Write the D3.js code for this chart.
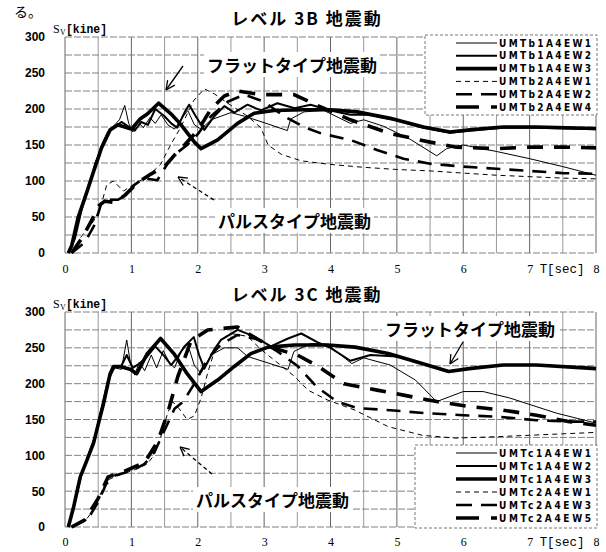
<!DOCTYPE html>
<html>
<head>
<meta charset="utf-8">
<script src="https://cdn.jsdelivr.net/npm/d3@7"></script>
<style>
body { margin: 0; background: #fff; }
svg { display: block; }
.cjk { font-family: "Noto Sans CJK JP", sans-serif; font-weight: bold; fill: #000; }
.ytick text { font-family: "Liberation Sans", Arial, sans-serif; font-size: 12px; font-weight: bold; }
.xtick text { font-family: "Liberation Serif", serif; font-size: 12px; }
.legend text { font-family: "DejaVu Sans Condensed", "DejaVu Sans", sans-serif; font-size: 10px; font-weight: bold; }
</style>
</head>
<body>
<div id="chart"></div>
<script>
// tick labels
var xTicks = [0, 1, 2, 3, 4, 5, 6, 7, 8];
var yTicks = [0, 50, 100, 150, 200, 250, 300];

// Level 3B curves, [T sec, Sv kine]
var names3B = ["UMTb1A4EW1", "UMTb1A4EW2", "UMTb1A4EW3", "UMTb2A4EW1", "UMTb2A4EW2", "UMTb2A4EW4"];
var b1EW1 = [[0.05,0],[0.12,15],[0.2,45],[0.3,80],[0.38,100],[0.45,125],[0.52,140],[0.6,160],[0.68,172],[0.75,178],[0.82,185],[0.9,205],[0.96,180],[1.02,168],[1.1,182],[1.18,174],[1.28,188],[1.36,180],[1.45,192],[1.55,178],[1.65,172],[1.75,186],[1.85,198],[1.95,178],[2.05,172],[2.2,185],[2.35,190],[2.5,195],[2.7,190],[3.0,181],[3.35,170],[3.4,186],[3.6,196],[3.9,198],[4.3,180],[4.5,185],[4.8,176],[5.2,158],[5.6,135],[5.75,145],[6.0,150],[6.5,141],[7.0,131],[7.5,120],[8.0,108]];
var b1EW2 = [[0.05,0],[0.15,20],[0.25,60],[0.35,90],[0.45,120],[0.55,148],[0.65,168],[0.75,175],[0.85,182],[0.95,176],[1.05,170],[1.15,182],[1.25,178],[1.36,200],[1.5,190],[1.6,180],[1.69,174],[1.8,195],[1.87,206],[1.97,190],[2.1,171],[2.25,190],[2.4,204],[2.55,195],[2.75,206],[2.95,198],[3.2,208],[3.46,201],[3.7,206],[4.0,198],[4.3,192],[4.6,192],[5.0,184],[5.4,174],[5.8,167],[6.1,170],[6.6,174],[7.1,174],[8.0,172]];
var b1EW3 = [[0.05,0],[0.1,10],[0.2,50],[0.33,85],[0.43,113],[0.5,132],[0.55,146],[0.68,171],[0.8,178],[0.9,175],[1.0,172],[1.13,186],[1.24,193],[1.41,208],[1.6,193],[1.74,179],[1.95,154],[2.05,145],[2.3,157],[2.6,180],[2.85,194],[3.15,198],[3.6,199],[4.0,199],[4.4,196],[4.9,187],[5.4,175],[5.8,168],[6.1,171],[6.6,175],[7.1,175],[8.0,173]];
var b2EW1 = [[0.1,0],[0.23,21],[0.35,35],[0.43,44],[0.53,62],[0.63,95],[0.73,100],[0.88,86],[1.03,95],[1.24,106],[1.44,123],[1.59,150],[1.74,174],[1.94,212],[2.1,228],[2.25,221],[2.5,205],[2.75,190],[2.95,174],[3.06,150],[3.26,137],[3.56,128],[4.0,123],[4.5,119],[5.0,116],[5.5,114],[6.0,111],[6.5,108],[7.0,106],[7.5,104],[8.0,103]];
var b2EW2 = [[0.1,0],[0.3,15],[0.45,40],[0.55,70],[0.65,74],[0.8,74],[0.93,81],[1.05,95],[1.19,104],[1.39,101],[1.55,125],[1.7,140],[1.84,150],[2.0,165],[2.2,190],[2.45,210],[2.7,220],[3.0,210],[3.3,190],[3.6,175],[3.86,166],[4.3,157],[4.7,143],[5.1,131],[5.5,124],[6.0,120],[6.5,117],[7.0,114],[7.5,111],[8.0,110]];
var b2EW4 = [[0.1,0],[0.25,20],[0.4,45],[0.5,65],[0.6,72],[0.75,70],[0.9,80],[1.1,98],[1.3,110],[1.5,120],[1.65,136],[1.8,150],[2.0,170],[2.2,200],[2.4,218],[2.6,225],[2.95,220],[3.45,220],[3.8,205],[4.3,185],[4.9,166],[5.5,154],[5.9,147],[6.5,145],[7.0,147],[7.5,147],[8.0,146]];

// Level 3C curves
var names3C = ["UMTc1A4EW1", "UMTc1A4EW2", "UMTc1A4EW3", "UMTc2A4EW1", "UMTc2A4EW3", "UMTc2A4EW5"];
var c1EW1 = [[0.05,0],[0.13,28],[0.23,70],[0.33,93],[0.43,117],[0.53,154],[0.6,175],[0.68,212],[0.75,222],[0.85,220],[0.93,261],[0.98,232],[1.05,212],[1.12,230],[1.2,218],[1.3,240],[1.38,222],[1.48,246],[1.58,228],[1.65,222],[1.75,245],[1.85,255],[1.95,225],[2.05,215],[2.2,240],[2.4,250],[2.6,250],[2.75,238],[3.36,220],[3.45,245],[3.7,256],[3.95,255],[4.32,228],[4.5,236],[4.9,226],[5.28,205],[5.6,175],[6.0,189],[6.3,189],[6.7,180],[7.4,159],[8.0,145]];
var c1EW2 = [[0.05,0],[0.15,35],[0.25,75],[0.35,100],[0.45,125],[0.55,165],[0.65,205],[0.75,224],[0.85,225],[0.93,240],[1.02,222],[1.12,228],[1.22,236],[1.36,252],[1.5,238],[1.6,226],[1.7,238],[1.8,252],[1.94,265],[2.02,240],[2.1,221],[2.25,248],[2.35,261],[2.6,275],[2.85,266],[3.1,252],[3.36,263],[3.56,270],[3.8,258],[4.0,250],[4.3,232],[4.6,240],[5.0,238],[5.4,228],[5.8,217],[6.1,221],[6.6,226],[7.1,226],[8.0,222]];
var c1EW3 = [[0.05,0],[0.13,28],[0.23,70],[0.33,93],[0.43,117],[0.53,154],[0.58,172],[0.68,214],[0.73,224],[0.83,224],[0.98,220],[1.08,214],[1.24,242],[1.44,263],[1.64,242],[1.84,214],[2.05,189],[2.3,205],[2.55,224],[2.8,242],[3.06,251],[3.46,254],[3.96,254],[4.37,251],[4.87,242],[5.38,228],[5.78,217],[6.09,221],[6.6,226],[7.1,226],[8.0,221]];
var c2EW1 = [[0.1,0],[0.3,8],[0.43,24],[0.53,45],[0.63,65],[0.75,70],[0.9,75],[1.05,80],[1.24,88],[1.34,100],[1.44,125],[1.55,160],[1.62,175],[1.72,165],[1.84,150],[1.95,155],[2.05,180],[2.15,215],[2.25,245],[2.35,261],[2.5,270],[2.75,266],[2.95,248],[3.15,233],[3.46,210],[3.66,191],[3.96,177],[4.37,163],[4.87,140],[5.38,128],[5.88,124],[6.5,126],[7.0,128],[7.5,130],[8.0,132]];
var c2EW3 = [[0.1,0],[0.35,12],[0.5,35],[0.62,60],[0.75,72],[1.0,78],[1.2,88],[1.35,105],[1.5,135],[1.65,165],[1.78,175],[1.95,200],[2.15,235],[2.35,255],[2.6,268],[2.9,262],[3.2,245],[3.5,225],[3.8,195],[4.1,175],[4.4,166],[4.9,163],[5.4,159],[6.0,156],[6.5,154],[7.1,149],[7.6,147],[8.0,147]];
var c2EW5 = [[0.1,0],[0.3,10],[0.5,40],[0.65,70],[0.9,78],[1.2,90],[1.4,120],[1.55,160],[1.7,210],[1.9,260],[2.15,275],[2.6,279],[2.9,262],[3.2,248],[3.5,240],[3.8,225],[4.2,200],[4.7,191],[5.1,184],[5.6,175],[6.1,168],[6.6,163],[7.1,156],[7.6,147],[8.0,142]];

// line look per series slot (thin, medium, thick solid; thin, medium, heavy dashed)
var lineW = [1, 2, 3.6, 1, 2.6, 3.6];
var lineDash = [null, null, null, "5,4", "14,9", "16,11"];
var legendDash = [null, null, null, "5,4", "16,9", "23,12,6,12"];

function init() {
    var w = 606, h = 552;
    var svg = d3.select("#chart").append("svg")
        .attr("width", w)
        .attr("height", h);

    var xScale = d3.scaleLinear().domain([0, 8]).range([65, 596]);

    svg.append("text").attr("class", "cjk")
        .attr("x", 14).attr("y", 17)
        .style("font-weight", "normal")
        .style("font-size", "14px")
        .text("る。");

    drawPanel(svg, xScale, {
        top: 37, bottom: 253, title: "レベル 3B 地震動", titleY: 25,
        series: [b1EW1, b1EW2, b1EW3, b2EW1, b2EW2, b2EW4], names: names3B,
        legend: { x0: 425, x1: 597, y0: 35, y1: 115, rowY: 43, rowStep: 12.8 },
        xPad: 11,
        flat: { x: 207, y: 72, ax1: 183, ay1: 66, ax2: 166, ay2: 90 },
        pulse: { x: 218, y: 228, ax1: 214, ay1: 200, ax2: 178, ay2: 177 }
    });

    drawPanel(svg, xScale, {
        top: 312, bottom: 527, title: "レベル 3C 地震動", titleY: 301,
        series: [c1EW1, c1EW2, c1EW3, c2EW1, c2EW3, c2EW5], names: names3C,
        legend: { x0: 415, x1: 597, y0: 445, y1: 528, rowY: 453, rowStep: 13 },
        xPad: 10,
        flat: { x: 385, y: 336, ax1: 463, ay1: 342, ax2: 450, ay2: 364 },
        pulse: { x: 196, y: 507, ax1: 212, ay1: 474, ax2: 180, ay2: 447 }
    });
}

function drawPanel(svg, xScale, p) {
    var yScale = d3.scaleLinear().domain([0, 300]).range([p.bottom, p.top]);
    var g = svg.append("g");

    // grid: every 0.5 sec and 25 kine
    g.selectAll(".vgrid").data(d3.range(0, 8.01, 0.5)).enter()
        .append("line")
        .attr("x1", d => xScale(d)).attr("x2", d => xScale(d))
        .attr("y1", p.top).attr("y2", p.bottom)
        .attr("stroke", d => d % 1 === 0 ? "#666" : "#9a9a9a")
        .attr("stroke-width", 1);
    g.selectAll(".hgrid").data(d3.range(0, 301, 25)).enter()
        .append("line")
        .attr("x1", xScale(0)).attr("x2", xScale(8))
        .attr("y1", d => yScale(d)).attr("y2", d => yScale(d))
        .attr("stroke", "#808080")
        .attr("stroke-width", 1)
        .attr("stroke-dasharray", "7,2");

    // axes, labels only
    var yAxis = d3.axisLeft(yScale).tickValues(yTicks).tickSize(0).tickPadding(20);
    g.append("g").attr("class", "ytick")
        .attr("transform", "translate(" + xScale(0) + ",0)")
        .call(yAxis)
        .call(s => s.select(".domain").remove());

    var xAxis = d3.axisBottom(xScale).tickValues(xTicks).tickSize(0).tickPadding(p.xPad);
    g.append("g").attr("class", "xtick")
        .attr("transform", "translate(0," + p.bottom + ")")
        .call(xAxis)
        .call(s => s.select(".domain").remove());

    g.append("text")
        .attr("x", xScale(7) + 10).attr("y", p.bottom + p.xPad + 9)
        .attr("textLength", 45).attr("lengthAdjust", "spacingAndGlyphs")
        .style("font-family", "Liberation Mono, monospace")
        .style("font-size", "13px")
        .text("T[sec]");

    // Sv[kine] unit label
    g.append("text")
        .attr("x", 53).attr("y", p.top - 4)
        .style("font-family", "Liberation Serif, serif")
        .style("font-size", "12px")
        .text("S");
    g.append("text")
        .attr("x", 60).attr("y", p.top - 2)
        .style("font-family", "Liberation Serif, serif")
        .style("font-size", "8px")
        .text("V");
    g.append("text")
        .attr("x", 66).attr("y", p.top - 4)
        .attr("textLength", 41).attr("lengthAdjust", "spacingAndGlyphs")
        .style("font-family", "Liberation Mono, monospace")
        .style("font-size", "12px")
        .style("font-weight", "bold")
        .text("[kine]");

    g.append("text").attr("class", "cjk")
        .attr("x", 307).attr("y", p.titleY)
        .attr("text-anchor", "middle")
        .style("font-size", "17px")
        .style("letter-spacing", "2px")
        .text(p.title);

    // curves
    var line = d3.line()
        .x(d => xScale(d[0]))
        .y(d => yScale(d[1]));

    p.series.forEach(function(s, i) {
        g.append("path")
            .datum(s)
            .attr("fill", "none")
            .attr("stroke", "#000")
            .attr("stroke-width", lineW[i])
            .attr("stroke-linejoin", "round")
            .attr("stroke-dasharray", lineDash[i])
            .attr("d", line);
    });

    // legend box
    var L = p.legend;
    var lg = g.append("g").attr("class", "legend");
    lg.append("rect")
        .attr("x", L.x0).attr("y", L.y0)
        .attr("width", L.x1 - L.x0).attr("height", L.y1 - L.y0)
        .attr("fill", "#fff")
        .attr("stroke", "#777")
        .attr("stroke-dasharray", "3,2");
    p.names.forEach(function(n, i) {
        var yy = L.rowY + i * L.rowStep;
        lg.append("line")
            .attr("x1", 456).attr("x2", 497)
            .attr("y1", yy).attr("y2", yy)
            .attr("stroke", "#000")
            .attr("stroke-width", lineW[i])
            .attr("stroke-dasharray", legendDash[i]);
        lg.append("text")
            .attr("x", 499).attr("y", yy).attr("dy", "0.36em")
            .attr("textLength", 92).attr("lengthAdjust", "spacing")
            .text(n);
    });

    // annotations
    annotate(g, p.flat, "フラットタイプ地震動", null);
    annotate(g, p.pulse, "パルスタイプ地震動", "4,3");
}

function annotate(g, a, label, dash) {
    var t = g.append("text").attr("class", "cjk")
        .attr("x", a.x).attr("y", a.y)
        .style("font-size", "17px")
        .text(label);
    var bb = t.node().getBBox();
    g.insert("rect", function() { return t.node(); })
        .attr("x", bb.x - 3).attr("y", bb.y)
        .attr("width", bb.width + 6).attr("height", bb.height)
        .attr("fill", "#fff");

    g.append("line")
        .attr("x1", a.ax1).attr("y1", a.ay1)
        .attr("x2", a.ax2).attr("y2", a.ay2)
        .attr("stroke", "#000").attr("stroke-width", 1.3)
        .attr("stroke-dasharray", dash);
    var ang = Math.atan2(a.ay1 - a.ay2, a.ax1 - a.ax2);
    var head = d3.path();
    [-0.45, 0.45].forEach(function(da) {
        head.moveTo(a.ax2, a.ay2);
        head.lineTo(a.ax2 + 10 * Math.cos(ang + da), a.ay2 + 10 * Math.sin(ang + da));
    });
    g.append("path").attr("d", head.toString())
        .attr("fill", "none").attr("stroke", "#000").attr("stroke-width", 1.3);
}

window.onload = init;
</script>
</body>
</html>
